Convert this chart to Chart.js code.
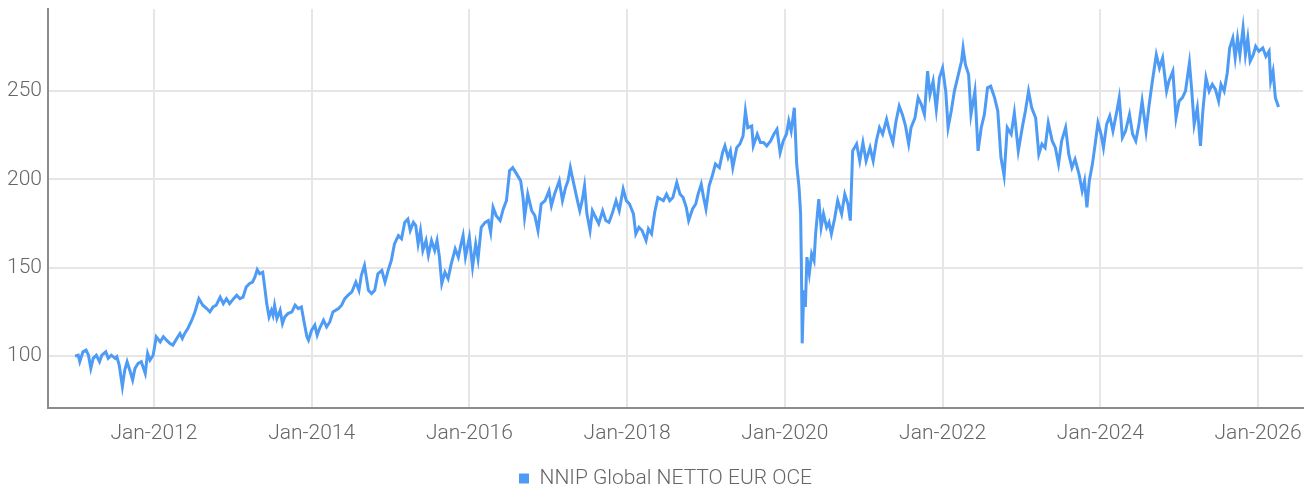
<!DOCTYPE html>
<html>
<head>
<meta charset="utf-8">
<title>NNIP Global NETTO EUR OCE</title>
<script src="https://cdn.jsdelivr.net/npm/chart.js@4.4.1/dist/chart.umd.min.js"></script>
<style>
    html, body { margin: 0; padding: 0; background: #ffffff; }
    #wrap { width: 1313px; height: 493px; }
</style>
</head>
<body>
<div id="wrap"><canvas id="myChart" width="1313" height="493"></canvas></div>
<script>
// series name + axis ticks
var seriesName = "NNIP Global NETTO EUR OCE";
var tickYears = [2012, 2014, 2016, 2018, 2020, 2022, 2024, 2026];
var tickValues = [100, 150, 200, 250];

// [year as decimal, value], split by period
var nav2011to2014 = [
    [2011.00, 100], [2011.04, 100.5], [2011.06, 96.8], [2011.10, 102.4], [2011.14, 103.4],
    [2011.17, 100.5], [2011.20, 93], [2011.23, 98.7], [2011.27, 100.5], [2011.31, 96.8],
    [2011.34, 100.5], [2011.39, 102.4], [2011.42, 98.7], [2011.46, 100.5], [2011.51, 98.7],
    [2011.53, 99.6], [2011.56, 94.9], [2011.60, 82.7], [2011.63, 92.1], [2011.66, 96.8],
    [2011.70, 91.1], [2011.73, 86.5], [2011.76, 93], [2011.80, 95.9], [2011.84, 96.8],
    [2011.89, 90.2], [2011.92, 101.5], [2011.95, 97.7], [2011.99, 100.5], [2012.03, 110.9],
    [2012.08, 108], [2012.12, 110.9], [2012.16, 109], [2012.20, 107.2], [2012.24, 106.2],
    [2012.29, 110], [2012.33, 112.8], [2012.36, 110], [2012.39, 112.8], [2012.43, 115.6],
    [2012.48, 120.3], [2012.52, 125], [2012.57, 132.5], [2012.62, 128.8], [2012.67, 126.9],
    [2012.71, 125], [2012.75, 127.8], [2012.79, 128.8], [2012.84, 133.4], [2012.88, 129.7],
    [2012.92, 132.5], [2012.96, 129.7], [2013.01, 132.5], [2013.05, 134.4], [2013.09, 132.5],
    [2013.13, 133.4], [2013.17, 139.1], [2013.21, 141], [2013.25, 141.9], [2013.28, 144.7],
    [2013.31, 148.9], [2013.34, 146.6], [2013.38, 147.5], [2013.41, 137.2], [2013.43, 129.7],
    [2013.46, 122.2], [2013.49, 125.9], [2013.51, 123.1], [2013.53, 128.8], [2013.56, 121.3],
    [2013.60, 125.9], [2013.63, 118.4], [2013.66, 122.2], [2013.70, 124.1], [2013.75, 125],
    [2013.79, 128.8], [2013.83, 126.9], [2013.87, 127.8], [2013.90, 120.3], [2013.94, 110.9],
    [2013.96, 109], [2014.00, 114.7], [2014.04, 117.5], [2014.07, 111.8], [2014.10, 115.6],
    [2014.15, 120.3], [2014.19, 116.5], [2014.23, 119.3]
];

var nav2014to2018 = [
    [2014.27, 125], [2014.34, 126.9], [2014.38, 128.8], [2014.42, 132.5], [2014.46, 134.4],
    [2014.51, 136.3], [2014.56, 141.9], [2014.60, 137.2], [2014.63, 145.7], [2014.67, 151.3],
    [2014.72, 137.2], [2014.76, 135.4], [2014.80, 137.2], [2014.84, 146.6], [2014.89, 148.5],
    [2014.93, 141.9], [2014.97, 148.5], [2015.01, 154.1], [2015.05, 163.5], [2015.10, 168.2],
    [2015.14, 166.4], [2015.18, 175.7], [2015.22, 177.6], [2015.25, 171.1], [2015.29, 175.7],
    [2015.32, 173.9], [2015.35, 163.5], [2015.38, 171.1], [2015.41, 159.8], [2015.45, 165.4],
    [2015.48, 157], [2015.52, 165.4], [2015.56, 159.8], [2015.59, 165.4], [2015.62, 156],
    [2015.65, 141], [2015.69, 147.5], [2015.73, 143.8], [2015.77, 152.2], [2015.82, 160.7],
    [2015.86, 156], [2015.89, 162.6], [2015.92, 168.2], [2015.95, 156], [2016.00, 167.3],
    [2016.04, 150.4], [2016.08, 163.5], [2016.11, 155.1], [2016.15, 172.9], [2016.20, 175.7],
    [2016.24, 176.7], [2016.27, 170.1], [2016.30, 184.2], [2016.34, 179.5], [2016.39, 176.7],
    [2016.43, 183.3], [2016.47, 188], [2016.51, 204.9], [2016.55, 206.7], [2016.60, 203],
    [2016.65, 199.2], [2016.68, 189.8], [2016.70, 178.6], [2016.74, 191.7], [2016.79, 182.3],
    [2016.83, 179.5], [2016.87, 171.1], [2016.91, 186.1], [2016.96, 188], [2017.01, 193.6],
    [2017.04, 185.2], [2017.08, 191.7], [2017.14, 199.2], [2017.18, 188], [2017.22, 195.5],
    [2017.25, 199.2], [2017.28, 206.7], [2017.32, 198.3], [2017.37, 188], [2017.40, 182.3],
    [2017.43, 188], [2017.46, 196.4], [2017.49, 180.5], [2017.53, 171.1], [2017.56, 182.3],
    [2017.60, 178.6], [2017.64, 175], [2017.69, 182.3], [2017.73, 176.7], [2017.77, 175.7],
    [2017.81, 180.5], [2017.86, 188], [2017.90, 182.3], [2017.95, 194.6], [2017.99, 188],
    [2018.03, 186.1], [2018.08, 180.5], [2018.11, 169.2], [2018.15, 172.9], [2018.19, 171.1],
    [2018.24, 165.4], [2018.27, 172], [2018.31, 169.2], [2018.35, 181.4], [2018.39, 189.8]
];

var nav2018to2022 = [
    [2018.46, 188], [2018.50, 191.7], [2018.54, 188], [2018.58, 189.8], [2018.63, 198.3],
    [2018.67, 191.7], [2018.71, 189.8], [2018.75, 184.2], [2018.78, 176.7], [2018.83, 183.3],
    [2018.87, 186.1], [2018.90, 191.7], [2018.94, 197.3], [2018.97, 189.8], [2019.00, 183.3],
    [2019.04, 196.4], [2019.08, 202.1], [2019.12, 208.7], [2019.17, 206.7], [2019.21, 215.2],
    [2019.24, 219], [2019.28, 212.4], [2019.31, 216.2], [2019.34, 206.7], [2019.39, 218],
    [2019.43, 220.1], [2019.47, 224.6], [2019.50, 238.7], [2019.53, 229.3], [2019.58, 230.3],
    [2019.60, 219], [2019.65, 225.6], [2019.69, 220.9], [2019.73, 220.9], [2019.77, 219],
    [2019.82, 221.8], [2019.86, 225.6], [2019.90, 228.4], [2019.94, 215.2], [2019.98, 221.8],
    [2020.02, 225.6], [2020.05, 233.1], [2020.08, 227.4], [2020.12, 240.6], [2020.15, 208.7],
    [2020.18, 195.5], [2020.20, 180.5], [2020.21, 150.4], [2020.22, 107.2], [2020.24, 137.2],
    [2020.26, 127.8], [2020.28, 156], [2020.31, 146.6], [2020.34, 157.9], [2020.37, 154.1],
    [2020.39, 169.2], [2020.43, 188.9], [2020.46, 172.9], [2020.49, 180.5], [2020.53, 172.9],
    [2020.56, 175.7], [2020.59, 169.2], [2020.63, 177.6], [2020.67, 188], [2020.72, 180.5],
    [2020.76, 191.7], [2020.80, 186.1], [2020.83, 176.7], [2020.86, 216.2], [2020.91, 220.1],
    [2020.95, 210.5], [2020.99, 220.9], [2021.03, 210.5], [2021.08, 218], [2021.12, 210.5],
    [2021.16, 221.8], [2021.20, 229.3], [2021.24, 225.6], [2021.29, 234], [2021.33, 226.5],
    [2021.37, 220.9], [2021.41, 233.1], [2021.45, 241.5], [2021.49, 236.8], [2021.53, 230.3],
    [2021.57, 220.1], [2021.60, 229.3], [2021.65, 234.9], [2021.69, 246.2], [2021.73, 242.5],
    [2021.77, 236.8], [2021.81, 261.3], [2021.84, 248.1], [2021.88, 255.6], [2021.92, 239.7],
    [2021.96, 257.5], [2022.00, 263.1], [2022.04, 250], [2022.07, 229.3], [2022.11, 238.7],
    [2022.15, 250], [2022.19, 257.5], [2022.24, 266.9], [2022.26, 274.4], [2022.29, 265],
    [2022.33, 259.4], [2022.36, 236.8], [2022.41, 250], [2022.45, 216.2], [2022.49, 229.3],
    [2022.53, 236.8], [2022.57, 251.9]
];

var nav2022to2026 = [
    [2022.61, 252.8], [2022.66, 246.2], [2022.70, 238.7], [2022.74, 212.4], [2022.78, 202.1],
    [2022.82, 229.3], [2022.87, 225.6], [2022.91, 237.7], [2022.96, 216.2], [2023.01, 229.3],
    [2023.05, 238.7], [2023.09, 250], [2023.13, 240.6], [2023.18, 234.9], [2023.22, 214.3],
    [2023.26, 220.1], [2023.30, 218], [2023.34, 232.1], [2023.39, 221.8], [2023.43, 218],
    [2023.47, 208.7], [2023.51, 221.8], [2023.56, 229.3], [2023.60, 214.3], [2023.64, 206.7],
    [2023.68, 211.4], [2023.73, 203], [2023.77, 193.6], [2023.80, 199.2], [2023.83, 184.2],
    [2023.86, 199.2], [2023.90, 208.7], [2023.94, 221.8], [2023.97, 232.1], [2024.01, 225.6],
    [2024.04, 218], [2024.08, 231.2], [2024.12, 235.9], [2024.16, 227.4], [2024.21, 238.7],
    [2024.24, 246.2], [2024.28, 223.7], [2024.32, 227.4], [2024.37, 236.8], [2024.41, 225.6],
    [2024.45, 221.8], [2024.49, 231.2], [2024.53, 244.4], [2024.58, 227.4], [2024.62, 242.5],
    [2024.66, 255.6], [2024.71, 270.6], [2024.75, 263.1], [2024.79, 268.8], [2024.84, 250],
    [2024.87, 255.6], [2024.92, 261.3], [2024.96, 234.9], [2025.00, 244.4], [2025.04, 246.2],
    [2025.08, 250], [2025.13, 266], [2025.16, 250], [2025.19, 231.2], [2025.23, 240.6],
    [2025.27, 219], [2025.30, 238.7], [2025.34, 257.5], [2025.38, 250], [2025.42, 253.8],
    [2025.46, 251], [2025.50, 244.4], [2025.53, 253.8], [2025.57, 250], [2025.61, 260.4],
    [2025.64, 274.4], [2025.68, 280], [2025.71, 268.8], [2025.74, 280], [2025.77, 270.6],
    [2025.81, 285.7], [2025.84, 270.6], [2025.87, 280], [2025.90, 266.9], [2025.94, 270.6],
    [2025.97, 275.4], [2026.01, 272.6], [2026.06, 274.4], [2026.10, 269.7], [2026.14, 272.6],
    [2026.16, 255.6], [2026.19, 261.3], [2026.22, 246.2], [2026.26, 241]
];

var lineColor = "#4d9bf5";
var gridColor = "#e6e6e6";
var axisColor = "#8c8c8c";
var textColor = "#666666";
var tickFont = { family: "Roboto", size: 21, weight: "300" };

var points = [];
[nav2011to2014, nav2014to2018, nav2018to2022, nav2022to2026].forEach(function (part) {
    for (var i = 0; i < part.length; i++) {
        points.push({ x: part[i][0], y: part[i][1] });
    }
});

// legend sits a bit right of the canvas centre in the original
var legendShift = {
    id: "legendShift",
    afterLayout: function (chart) {
        chart.legend.left += 14;
        chart.legend.right += 14;
    },
};

new Chart(document.getElementById("myChart"), {
    type: "line",
    data: {
        datasets: [
            {
                label: seriesName,
                data: points,
                borderColor: lineColor,
                backgroundColor: lineColor,
                borderWidth: 3,
                pointRadius: 0,
                tension: 0,
                fill: false,
            },
        ],
    },
    options: {
        responsive: false,
        animation: false,
        layout: {
            padding: { top: 9, right: 10, left: 0, bottom: -6 },
        },
        scales: {
            x: {
                type: "linear",
                min: 2010.657,
                max: 2026.57,
                afterBuildTicks: function (axis) {
                    axis.ticks = tickYears.map(function (v) { return { value: v }; });
                },
                afterFit: function (axis) {
                    axis.height = 50;
                    axis.paddingLeft = 0;
                    axis.paddingRight = 0;
                },
                grid: { color: gridColor, lineWidth: 2, drawTicks: false },
                border: { display: true, color: axisColor, width: 2 },
                ticks: {
                    padding: 13,
                    color: textColor,
                    font: tickFont,
                    maxRotation: 0,
                    autoSkip: false,
                    callback: function (value) {
                        return "Jan-" + value;
                    },
                },
            },
            y: {
                min: 70.6,
                max: 296.5,
                afterBuildTicks: function (axis) {
                    axis.ticks = tickValues.map(function (v) { return { value: v }; });
                },
                afterFit: function (axis) {
                    axis.width = 48;
                    axis.paddingTop = 0;
                    axis.paddingBottom = 0;
                },
                grid: { color: gridColor, lineWidth: 2, drawTicks: false },
                border: { display: true, color: axisColor, width: 2 },
                ticks: {
                    padding: 6,
                    color: textColor,
                    font: tickFont,
                },
            },
        },
        plugins: {
            legend: {
                position: "bottom",
                labels: {
                    boxWidth: 10,
                    boxHeight: 10,
                    padding: 10,
                    color: textColor,
                    font: tickFont,
                    generateLabels: function (chart) {
                        var items = Chart.defaults.plugins.legend.labels.generateLabels(chart);
                        items.forEach(function (it) {
                            it.lineWidth = 0;
                            it.fillStyle = lineColor;
                            it.strokeStyle = lineColor;
                        });
                        return items;
                    },
                },
            },
            tooltip: { enabled: false },
        },
    },
    plugins: [legendShift],
});
</script>
</body>
</html>
